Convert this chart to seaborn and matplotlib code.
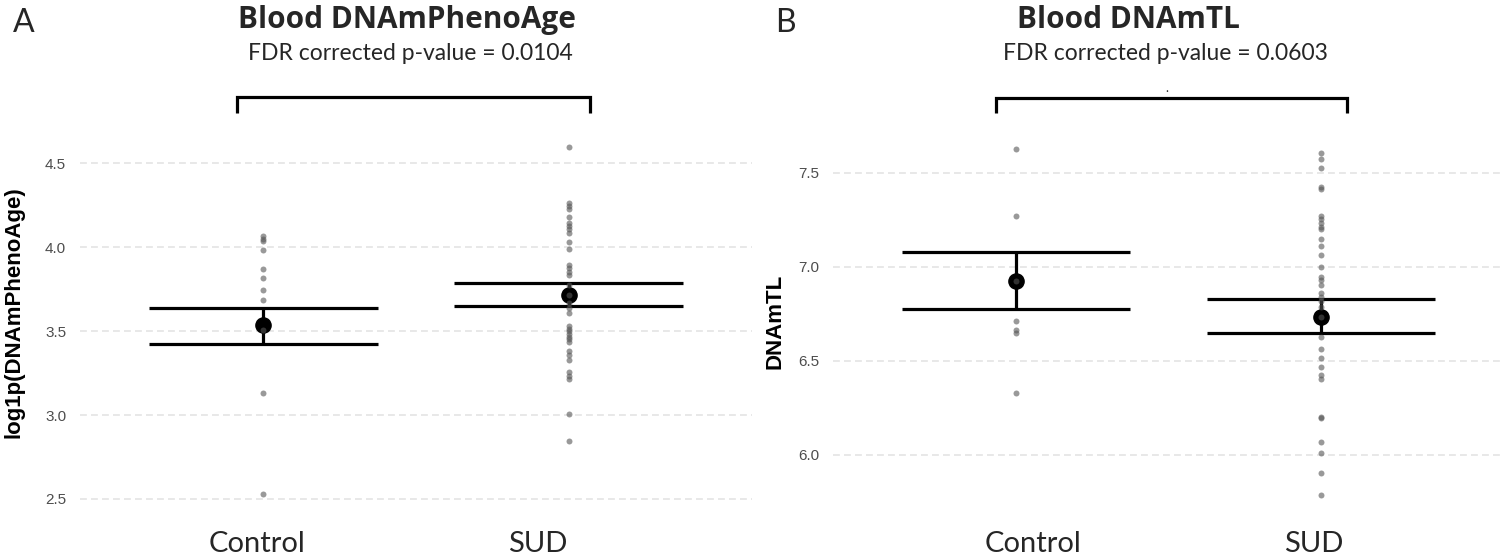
import numpy as np
import pandas as pd
import seaborn as sns
import matplotlib.pyplot as plt

groups = ['Control', 'SUD']

# Panel A: log1p(DNAmPhenoAge)
pheno_control = [4.065, 4.052, 4.037, 3.986, 3.871, 3.814, 3.746, 3.683, 3.51, 3.131, 2.532]
pheno_sud = [4.595, 4.262, 4.246, 4.230, 4.179, 4.143, 4.127, 4.111, 4.087, 4.033, 3.988,
             3.895, 3.875, 3.855, 3.835, 3.776, 3.716, 3.667, 3.637, 3.611, 3.532, 3.516,
             3.50, 3.484, 3.468, 3.452, 3.436, 3.379, 3.359, 3.329, 3.254, 3.234, 3.214,
             3.008, 2.847]
pheno_mean = [3.536, 3.716]
pheno_lower = [3.425, 3.649]
pheno_upper = [3.639, 3.786]
pheno_p = '0.0104'

# Panel B: DNAmTL
tl_control = [7.626, 7.27, 6.926, 6.711, 6.663, 6.646, 6.327]
tl_sud = [7.606, 7.571, 7.523, 7.426, 7.412, 7.270, 7.252, 7.231, 7.210, 7.199, 7.147,
          7.110, 7.062, 7.0, 6.947, 6.929, 6.902, 6.859, 6.840, 6.819, 6.787, 6.734,
          6.624, 6.564, 6.513, 6.468, 6.422, 6.404, 6.202, 6.195, 6.068, 6.011, 5.901,
          5.784]
tl_mean = [6.926, 6.734]
tl_lower = [6.775, 6.646]
tl_upper = [7.077, 6.830]
tl_p = '0.0603'

W, H = 1500, 554
sns.set_theme(style='white')
plt.rcParams['font.family'] = ['Liberation Sans', 'DejaVu Sans']
fig = plt.figure(figsize=(W / 100, H / 100), dpi=100)


def px_axes(x0, x1, y0, y1):
    return fig.add_axes([x0 / W, 1 - y1 / H, (x1 - x0) / W, (y1 - y0) / H])


def fy(y):
    return 1 - y / H


def draw_panel(ax, control, sud, means, lower, upper, ylim, yticks):
    df = pd.DataFrame({'group': ['Control'] * len(control) + ['SUD'] * len(sud),
                       'value': control + sud})
    # mean +/- CI as wide error bars
    for i, g in enumerate(groups):
        ax.hlines([lower[i], upper[i]], i - 0.375, i + 0.375, color='black', lw=2.3, zorder=3)
        ax.vlines(i, lower[i], upper[i], color='black', lw=2.3, zorder=3)
    ax.scatter(range(len(groups)), means, s=120, color='black', zorder=4)
    sns.stripplot(data=df, x='group', y='value', order=groups, jitter=False,
                  color='#555555', alpha=0.6, size=4.3, linewidth=0, ax=ax, zorder=5)
    ax.set_xlim(-0.6, 1.6)
    ax.set_ylim(*ylim)
    ax.set_yticks(yticks)
    ax.set_yticklabels(['{:.1f}'.format(t) for t in yticks])
    ax.yaxis.grid(True, color='#e2e2e2', ls=(0, (4.5, 2.7)), lw=1.1)
    ax.xaxis.grid(False)
    ax.set_xticklabels([])
    ax.set_xlabel('')
    ax.tick_params(axis='both', length=0)
    ax.tick_params(axis='y', pad=10, labelsize=11, labelcolor='#4d4d4d')
    sns.despine(ax=ax, left=True, bottom=True)


def bracket(ax, x0, x1, ytop, yleg):
    ax.plot([x0, x0, x1, x1], [yleg, ytop, ytop, yleg], color='black', lw=2.3,
            clip_on=False, solid_capstyle='butt', solid_joinstyle='miter', zorder=6)


calibri_like = ['Lato', 'DejaVu Sans']
title_font = ['Open Sans', 'DejaVu Sans']

# Panel A
axA = px_axes(80, 752, 60, 514)
draw_panel(axA, pheno_control, pheno_sud, pheno_mean, pheno_lower, pheno_upper,
           (2.4106, 5.116), [2.5, 3.0, 3.5, 4.0, 4.5])
bracket(axA, -0.086, 1.069, 4.893, 4.800)
axA.set_ylabel('log1p(DNAmPhenoAge)', fontsize=16, fontweight='bold', color='black', va='center')
axA.yaxis.set_label_coords((14 - 80) / 672, (514 - 312) / 454)

# Panel B
axB = px_axes(833, 1504, 60, 514)
draw_panel(axB, tl_control, tl_sud, tl_mean, tl_lower, tl_upper,
           (5.6846, 8.0995), [6.0, 6.5, 7.0, 7.5])
bracket(axB, -0.067, 1.084, 7.90, 7.818)
axB.set_ylabel('DNAmTL', fontsize=16, fontweight='bold', color='black', va='center')
axB.yaxis.set_label_coords((775 - 833) / 671, (514 - 321) / 454)

# titles, panel letters, annotations
fig.text(13 / W, fy(32), 'A', fontsize=23, family=calibri_like, ha='left', va='baseline')
fig.text(775 / W, fy(32), 'B', fontsize=23, family=calibri_like, ha='left', va='baseline')
fig.text(407 / W, fy(28), 'Blood DNAmPhenoAge', fontsize=21.4, fontweight='bold',
         family=title_font, ha='center', va='baseline')
fig.text(1128 / W, fy(28), 'Blood DNAmTL', fontsize=21.4, fontweight='bold',
         family=title_font, ha='center', va='baseline')
fig.text(410 / W, fy(60), 'FDR corrected p-value = ' + pheno_p, fontsize=16.5,
         family=calibri_like, ha='center', va='baseline')
fig.text(1165 / W, fy(60), 'FDR corrected p-value = ' + tl_p, fontsize=16.5,
         family=calibri_like, ha='center', va='baseline')
fig.text(1167 / W, fy(92), '.', fontsize=9, family=calibri_like, ha='center', va='baseline')

# category labels
for xc, lab in zip([257.5, 538, 1033, 1314], groups + groups):
    fig.text(xc / W, fy(552), lab, fontsize=21, family=calibri_like, ha='center', va='baseline')

fig.savefig('out.png', dpi=100)
